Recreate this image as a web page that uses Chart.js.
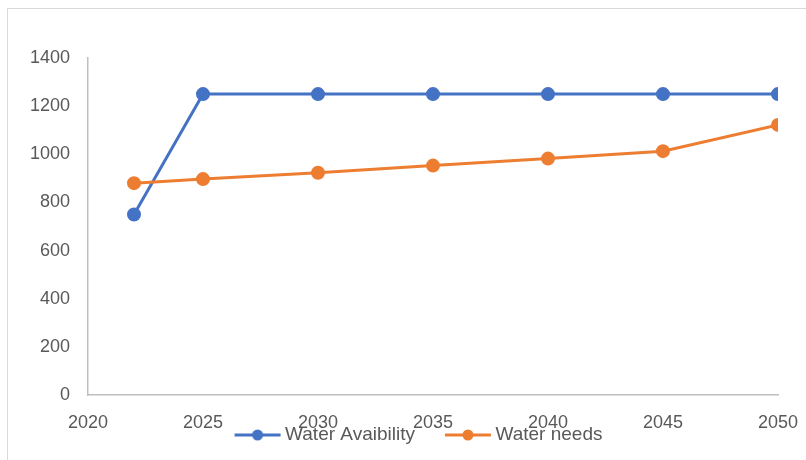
<!DOCTYPE html>
<html>
<head>
<meta charset="utf-8">
<script src="https://cdn.jsdelivr.net/npm/chart.js@4/dist/chart.umd.min.js"></script>
<style>
  html, body { margin: 0; padding: 0; background: #ffffff; width: 806px; height: 460px; overflow: hidden; }
  #frame { position: absolute; left: 7px; top: 8px; width: 900px; height: 900px; border: 1px solid #d9d9d9; box-sizing: border-box; }
  #c { position: absolute; left: 0; top: 0; }
</style>
</head>
<body>
<div id="frame"></div>
<canvas id="c" width="806" height="460"></canvas>
<script>
const years = [2022, 2025, 2030, 2035, 2040, 2045, 2050];
const waterAvailability = [750, 1250, 1250, 1250, 1250, 1250, 1250];
const waterNeeds = [880, 897, 923, 953, 982, 1013, 1122];
const seriesNames = ['Water Avaibility', 'Water needs'];
const xTicks = [2020, 2025, 2030, 2035, 2040, 2045, 2050];
const yTicks = [0, 200, 400, 600, 800, 1000, 1200, 1400];

const BLUE = '#4472C4';
const ORANGE = '#ED7D31';
const TEXT = '#595959';
const AXIS = '#bfbfbf';
const FONT = '"Liberation Sans", Arial, sans-serif';
const LEGEND_PAD = 35;
const LEGEND_FONT = 19;

function legendIcon(color) {
  const cv = document.createElement('canvas');
  cv.width = 48; cv.height = 14;
  const g = cv.getContext('2d');
  g.strokeStyle = color; g.lineWidth = 3;
  g.beginPath(); g.moveTo(1, 7); g.lineTo(47, 7); g.stroke();
  g.fillStyle = color;
  g.beginPath(); g.arc(24, 7, 5.5, 0, Math.PI * 2); g.fill();
  return cv;
}

const toPts = (vals) => years.map((y, i) => ({ x: y, y: vals[i] }));

// Excel-style legend placement: centred near x=419, overlapping the tick-label band
const legendShift = {
  id: 'legendShift',
  afterLayout(chart) {
    const lg = chart.legend;
    if (!lg) return;
    const dx = 421 - (lg.left + lg.right) / 2;
    const dy = (435 - LEGEND_PAD - LEGEND_FONT / 2) - lg.top;
    lg.left += dx; lg.right += dx;
    lg.top += dy; lg.bottom += dy;
  }
};

new Chart(document.getElementById('c'), {
  type: 'line',
  data: {
    datasets: [
      {
        label: seriesNames[0], data: toPts(waterAvailability),
        borderColor: BLUE, backgroundColor: BLUE, pointBackgroundColor: BLUE, pointBorderColor: BLUE,
        borderWidth: 3, pointRadius: 5.5, pointHoverRadius: 5.5, pointStyle: 'circle', order: 1,
        legendIcon: legendIcon(BLUE)
      },
      {
        label: seriesNames[1], data: toPts(waterNeeds),
        borderColor: ORANGE, backgroundColor: ORANGE, pointBackgroundColor: ORANGE, pointBorderColor: ORANGE,
        borderWidth: 3, pointRadius: 5.5, pointHoverRadius: 5.5, pointStyle: 'circle', order: 0,
        legendIcon: legendIcon(ORANGE)
      }
    ]
  },
  plugins: [legendShift],
  options: {
    responsive: false,
    animation: false,
    layout: { padding: { left: 24, right: 28, top: 58, bottom: -39 } },
    plugins: {
      tooltip: { enabled: false },
      legend: {
        position: 'bottom',
        labels: {
          usePointStyle: true,
          pointStyleWidth: 36,
          boxHeight: LEGEND_FONT,
          padding: LEGEND_PAD,
          color: TEXT,
          font: { family: FONT, size: LEGEND_FONT },
          sort: (a, b) => a.datasetIndex - b.datasetIndex,
          generateLabels: (chart) => chart.data.datasets.map((ds, i) => ({
            text: ds.label, datasetIndex: i, pointStyle: ds.legendIcon,
            fillStyle: ds.borderColor, strokeStyle: ds.borderColor, lineWidth: 0,
            fontColor: TEXT, hidden: false
          }))
        }
      }
    },
    scales: {
      x: {
        type: 'linear', min: xTicks[0], max: xTicks[xTicks.length - 1],
        afterBuildTicks: (s) => { s.ticks = xTicks.map(v => ({ value: v })); },
        afterFit: (s) => { s.height = 40; s.paddingLeft = 0; s.paddingRight = 0; },
        grid: { display: false },
        border: { display: true, color: AXIS, width: 1.5 },
        ticks: { color: TEXT, font: { family: FONT, size: 18 }, padding: 9, maxRotation: 0, callback: (v) => String(v) }
      },
      y: {
        min: yTicks[0], max: yTicks[yTicks.length - 1],
        afterBuildTicks: (s) => { s.ticks = yTicks.map(v => ({ value: v })); },
        afterFit: (s) => { s.width = 64; s.paddingTop = 0; s.paddingBottom = 0; },
        grid: { display: false },
        border: { display: true, color: AXIS, width: 1.5 },
        ticks: { color: TEXT, font: { family: FONT, size: 18 }, padding: 10, callback: (v) => String(v) }
      }
    }
  }
});
</script>
</body>
</html>
